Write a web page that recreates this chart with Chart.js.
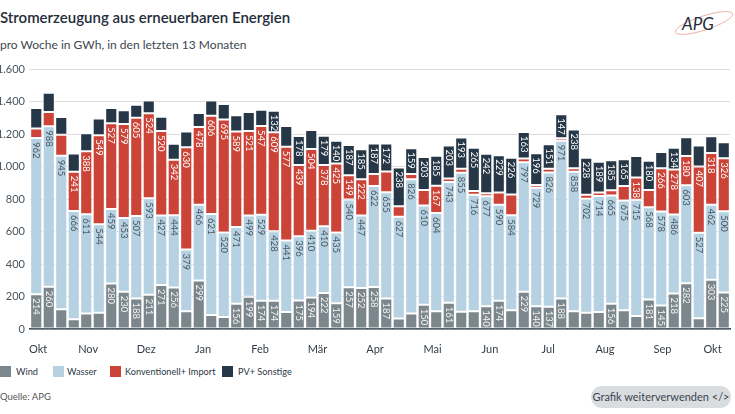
<!DOCTYPE html>
<html lang="de">
<head>
<meta charset="utf-8">
<script src="https://cdn.jsdelivr.net/npm/chart.js@4.4.1/dist/chart.umd.min.js"></script>
<style>
  body { margin: 0; width: 735px; height: 414px; background: #fff; font-family: Lato, "Open Sans", sans-serif; color: #1f2d3a; overflow: hidden; position: relative; }
  .title { position: absolute; left: 0; top: 8px; font-size: 15px; font-weight: 600; color: #1f2d3a; }
  .subtitle { position: absolute; left: 0; top: 37px; font-size: 12px; color: #3c4650; }
  .logo { position: absolute; left: 672px; top: 6px; }
  .chart-box { position: absolute; left: 0; top: 55px; width: 735px; height: 300px; }
  .legend { position: absolute; left: 0; top: 366px; height: 11px; width: 320px; font-size: 9.2px; color: #2b3844; }
  .legend i { position: absolute; top: 0; width: 11px; height: 11px; }
  .legend b { position: absolute; top: 0; line-height: 11px; font-weight: 400; white-space: nowrap; }
  .source { position: absolute; left: 0; top: 391px; font-size: 9.5px; color: #555; }
  .btn { position: absolute; left: 591px; top: 386px; width: 140px; height: 22px; border-radius: 11px; background: #dadde0; font-size: 11px; color: #3a4550; text-align: center; line-height: 22px; }
</style>
</head>
<body>
<div class="title">Stromerzeugung aus erneuerbaren Energien</div>
<div class="subtitle">pro Woche in GWh, in den letzten 13 Monaten</div>
<svg class="logo" width="62" height="32" viewBox="0 0 62 32">
  <ellipse cx="32" cy="17" rx="30" ry="7" transform="rotate(-18 32 17)" fill="none" stroke="#e8a6a0" stroke-width="0.8"/>
  <text x="10" y="24" font-family="Lato, sans-serif" font-size="17" font-style="italic" font-weight="400" fill="#1f2d3a">APG</text>
</svg>
<div class="chart-box"><canvas id="chart"></canvas></div>
<div class="legend">
  <i style="left:0;background:#7b868d"></i><b style="left:16px">Wind</b>
  <i style="left:53px;background:#b5d1e2"></i><b style="left:67px">Wasser</b>
  <i style="left:110px;background:#cc4437"></i><b style="left:125px">Konventionell+ Import</b>
  <i style="left:222px;background:#263747"></i><b style="left:238px">PV+ Sonstige</b>
</div>
<div class="source">Quelle: APG</div>
<div class="btn">Grafik weiterverwenden &lt;/&gt;</div>

<script>
// weekly values in GWh, oldest first
const wind = [214, 260, 121, 60, 95, 100, 280, 230, 188, 211, 271, 256, 110, 299, 86, 74, 156, 199, 174, 174,
  104, 175, 194, 222, 159, 257, 252, 258, 187, 64, 96, 150, 110, 161, 106, 110, 140, 174, 116, 229,
  140, 137, 188, 110, 100, 104, 156, 116, 80, 181, 145, 218, 282, 66, 303, 225];
const wasser = [962, 988, 945, 666, 611, 544, 459, 453, 507, 593, 427, 444, 379, 466, 621, 520, 471, 499, 529, 428,
  441, 396, 410, 410, 435, 540, 447, 622, 655, 627, 826, 610, 604, 743, 855, 716, 677, 590, 584, 797,
  729, 826, 971, 858, 702, 714, 665, 675, 715, 568, 578, 486, 603, 527, 462, 500];
const konv = [58, 88, 130, 241, 388, 549, 527, 579, 605, 524, 520, 342, 630, 478, 606, 695, 589, 521, 547, 609,
  577, 439, 504, 378, 425, 149, 222, 74, 128, 65, 32, 96, 167, 22, 25, 24, 19, 76, 128, 24,
  17, 23, 15, 22, 24, 22, 33, 89, 138, 107, 266, 278, 180, 407, 318, 326];
const pv = [126, 118, 108, 113, 110, 103, 94, 84, 80, 78, 88, 98, 97, 86, 93, 95, 100, 117, 100, 132,
  128, 178, 116, 179, 140, 187, 185, 187, 172, 238, 159, 203, 185, 203, 193, 265, 242, 229, 226, 163,
  196, 151, 147, 238, 228, 189, 185, 165, 131, 180, 101, 134, 115, 130, 103, 99];

// month ticks, position in weeks from the first bar
const monthPos = [0.15, 4.15, 8.8, 13.35, 17.9, 22.5, 27.1, 31.7, 36.3, 40.95, 45.5, 50.1, 54.1];
const monthLabels = ["Okt", "Nov", "Dez", "Jan", "Feb", "Mär", "Apr", "Mai", "Jun", "Jul", "Aug", "Sep", "Okt"];

const yTicks = [0, 200, 400, 600, 800, 1000, 1200, 1400, 1600];
const minLabel = 132;

const toPoints = (arr) => arr.map((v, i) => ({ x: i, y: v }));

// vertical value labels at the top of each segment
const segLabels = {
  id: "segLabels",
  afterDatasetsDraw(chart) {
    const ctx = chart.ctx;
    chart.data.datasets.forEach((ds, di) => {
      chart.getDatasetMeta(di).data.forEach((bar, i) => {
        const v = ds.data[i].y;
        if (v < minLabel) return;
        ctx.save();
        ctx.translate(bar.x, bar.y + 4);
        ctx.rotate(Math.PI / 2);
        ctx.font = "9.5px Lato, sans-serif";
        ctx.fillStyle = ds.labelColor;
        ctx.textAlign = "left";
        ctx.textBaseline = "middle";
        ctx.fillText(String(v), 0, 0);
        ctx.restore();
      });
    });
  },
};

const barStyle = {
  borderColor: "rgba(255,255,255,0.85)",
  borderWidth: 1,
  borderSkipped: false,
  categoryPercentage: 1,
  barPercentage: 0.97,
  stack: "s",
};

new Chart(document.getElementById("chart"), {
  type: "bar",
  data: {
    datasets: [
      { label: "Wind", data: toPoints(wind), backgroundColor: "#7b868d", labelColor: "#f2f4f5", ...barStyle },
      { label: "Wasser", data: toPoints(wasser), backgroundColor: "#b5d1e2", labelColor: "#4b5963", ...barStyle },
      { label: "Konventionell+ Import", data: toPoints(konv), backgroundColor: "#cc4437", labelColor: "#ffffff", ...barStyle },
      { label: "PV+ Sonstige", data: toPoints(pv), backgroundColor: "#263747", labelColor: "#ffffff", ...barStyle },
    ],
  },
  options: {
    responsive: true,
    maintainAspectRatio: false,
    animation: false,
    layout: { padding: { top: 14, right: 5 } },
    plugins: { legend: { display: false }, tooltip: { enabled: false } },
    scales: {
      x: {
        type: "linear",
        min: -0.5,
        max: 55.5,
        offset: false,
        grid: { display: false },
        border: { color: "#2a3a48", width: 1.5 },
        afterBuildTicks: (scale) => { scale.ticks = monthPos.map((v) => ({ value: v })); },
        afterFit: (scale) => { scale.height = 26; },
        ticks: {
          autoSkip: false,
          maxRotation: 0,
          padding: 6,
          color: "#333d47",
          font: { family: "Lato", size: 11 },
          callback: (value, index) => monthLabels[index],
        },
      },
      y: {
        stacked: true,
        min: 0,
        max: 1600,
        border: { display: false },
        grid: { color: "#dcdcdc", drawTicks: false },
        afterBuildTicks: (scale) => { scale.ticks = yTicks.map((v) => ({ value: v })); },
        afterFit: (scale) => { scale.width = 30; },
        ticks: {
          padding: 5,
          color: "#4a545d",
          font: { family: "Lato", size: 11 },
          callback: (value) => value.toLocaleString("de-DE"),
        },
      },
    },
  },
  plugins: [segLabels],
});
</script>
</body>
</html>
